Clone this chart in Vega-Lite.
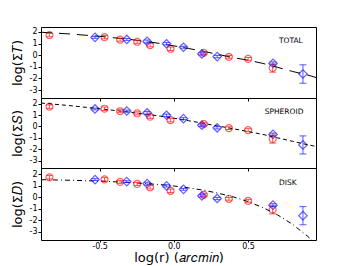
{
  "$schema": "https://vega.github.io/schema/vega-lite/v6.json",
  "padding": {"left": 10, "top": 26, "right": 35, "bottom": 0},
  "spacing": 0,
  "bounds": "flush",
  "config": {
    "font": "DejaVu Sans",
    "view": {"stroke": "black", "strokeWidth": 1}
  },
  "datasets": {
    "obs": [
      {"set": "A", "x": -0.838, "y": 1.73, "lo": 1.58, "hi": 1.88},
      {"set": "A", "x": -0.467, "y": 1.55, "lo": 1.40, "hi": 1.70},
      {"set": "A", "x": -0.362, "y": 1.33, "lo": 1.20, "hi": 1.46},
      {"set": "A", "x": -0.247, "y": 1.15, "lo": 1.02, "hi": 1.28},
      {"set": "A", "x": -0.160, "y": 0.86, "lo": 0.71, "hi": 1.01},
      {"set": "A", "x": -0.022, "y": 0.55, "lo": 0.40, "hi": 0.70},
      {"set": "A", "x": 0.202, "y": 0.20, "lo": 0.08, "hi": 0.32},
      {"set": "A", "x": 0.371, "y": -0.15, "lo": -0.27, "hi": -0.03},
      {"set": "A", "x": 0.501, "y": -0.32, "lo": -0.44, "hi": -0.20},
      {"set": "A", "x": 0.666, "y": -1.10, "lo": -1.46, "hi": -0.74},
      {"set": "B", "x": -0.531, "y": 1.53, "lo": 1.45, "hi": 1.61},
      {"set": "B", "x": -0.317, "y": 1.35, "lo": 1.27, "hi": 1.43},
      {"set": "B", "x": -0.180, "y": 1.18, "lo": 1.06, "hi": 1.30},
      {"set": "B", "x": -0.049, "y": 0.98, "lo": 0.88, "hi": 1.08},
      {"set": "B", "x": 0.065, "y": 0.68, "lo": 0.60, "hi": 0.76},
      {"set": "B", "x": 0.189, "y": 0.11, "lo": 0.01, "hi": 0.21},
      {"set": "B", "x": 0.292, "y": -0.12, "lo": -0.22, "hi": -0.02},
      {"set": "B", "x": 0.668, "y": -0.70, "lo": -0.82, "hi": -0.58},
      {"set": "B", "x": 0.870, "y": -1.62, "lo": -2.41, "hi": -0.83}
    ],
    "model": [
      {"x": -0.895, "total": 1.97, "spheroid": 2.05, "disk": 1.52},
      {"x": -0.7, "total": 1.82, "spheroid": 1.82, "disk": 1.47},
      {"x": -0.5, "total": 1.62, "spheroid": 1.55, "disk": 1.40},
      {"x": -0.3, "total": 1.36, "spheroid": 1.25, "disk": 1.28},
      {"x": -0.1, "total": 1.02, "spheroid": 0.92, "disk": 1.10},
      {"x": 0.0, "total": 0.80, "spheroid": 0.72, "disk": 0.97},
      {"x": 0.1, "total": 0.57, "spheroid": 0.50, "disk": 0.81},
      {"x": 0.2, "total": 0.33, "spheroid": 0.27, "disk": 0.60},
      {"x": 0.3, "total": 0.06, "spheroid": 0.03, "disk": 0.34},
      {"x": 0.4, "total": -0.21, "spheroid": -0.20, "disk": 0.02},
      {"x": 0.5, "total": -0.43, "spheroid": -0.45, "disk": -0.39},
      {"x": 0.6, "total": -0.71, "spheroid": -0.70, "disk": -0.91},
      {"x": 0.7, "total": -1.05, "spheroid": -1.00, "disk": -1.56},
      {"x": 0.8, "total": -1.40, "spheroid": -1.30, "disk": -2.37},
      {"x": 0.9, "total": -1.70, "spheroid": -1.60, "disk": -3.40},
      {"x": 0.958, "total": -1.92, "spheroid": -1.75, "disk": -4.10}
    ],
    "labels": [
      {"panel": "T", "label": "TOTAL"},
      {"panel": "S", "label": "SPHEROID"},
      {"panel": "D", "label": "DISK"}
    ]
  },
  "vconcat": [
    {
      "width": 275, "height": 71,
      "layer": [
        {"data": {"name": "obs"}, "mark": {"type": "point", "filled": false, "strokeWidth": 1.2, "opacity": 0.7},
         "encoding": {"x": {"field": "x", "type": "quantitative", "scale": {"domain": [-0.895, 0.958], "nice": false, "zero": false}, "axis": {"values": [-0.5, 0, 0.5], "tickCount": 3, "labels": false, "title": null, "grid": false, "domain": false, "tickSize": 3, "tickColor": "black"}}, "y": {"field": "y", "type": "quantitative", "scale": {"domain": [-3.68, 2.42], "nice": false, "zero": false}, "axis": {"values": [-3, -2, -1, 0, 1, 2], "tickCount": 6, "labelExpr": "datum.value < 0 ? '-' + format(-datum.value, 'd') : format(datum.value, 'd')", "title": "log(Σ𝑇)", "grid": false, "domain": false, "tickSize": 3, "tickColor": "black", "labelFontSize": 8, "labelColor": "black", "labelPadding": 1, "labelOverlap": false, "titleFontSize": 13, "titleFontWeight": "normal", "titleColor": "black", "titlePadding": 5}}, "color": {"field": "set", "type": "nominal", "scale": {"domain": ["A", "B"], "range": ["#ff2020", "#2020ff"]}, "legend": null}, "shape": {"field": "set", "type": "nominal", "scale": {"domain": ["A", "B"], "range": ["circle", "diamond"]}, "legend": null}, "size": {"field": "set", "type": "nominal", "scale": {"domain": ["A", "B"], "range": [48, 72]}, "legend": null}}},
        {"data": {"name": "model"}, "mark": {"type": "line", "color": "black", "strokeWidth": 1, "strokeDash": [11, 7], "clip": true},
         "encoding": {"x": {"field": "x", "type": "quantitative"}, "y": {"field": "total", "type": "quantitative"}}},
        {"data": {"name": "obs"}, "mark": {"type": "rule", "strokeWidth": 1, "opacity": 0.75},
         "encoding": {"x": {"field": "x", "type": "quantitative"}, "y": {"field": "lo", "type": "quantitative"}, "y2": {"field": "hi"}, "color": {"field": "set", "type": "nominal", "legend": null}}},
        {"data": {"name": "obs"}, "mark": {"type": "point", "shape": "stroke", "size": 49, "strokeWidth": 1, "opacity": 0.75},
         "encoding": {"x": {"field": "x", "type": "quantitative"}, "y": {"field": "lo", "type": "quantitative"}, "color": {"field": "set", "type": "nominal", "legend": null}}},
        {"data": {"name": "obs"}, "mark": {"type": "point", "shape": "stroke", "size": 49, "strokeWidth": 1, "opacity": 0.75},
         "encoding": {"x": {"field": "x", "type": "quantitative"}, "y": {"field": "hi", "type": "quantitative"}, "color": {"field": "set", "type": "nominal", "legend": null}}},
        {"data": {"name": "labels"}, "transform": [{"filter": "datum.panel === 'T'"}], "mark": {"type": "text", "fontSize": 7.5, "align": "left", "baseline": "middle", "color": "black"},
         "encoding": {"x": {"datum": 0.708}, "y": {"datum": 1.18}, "text": {"field": "label"}}}
      ]
    },
    {
      "width": 275, "height": 70,
      "layer": [
        {"data": {"name": "obs"}, "mark": {"type": "point", "filled": false, "strokeWidth": 1.2, "opacity": 0.7},
         "encoding": {"x": {"field": "x", "type": "quantitative", "scale": {"domain": [-0.895, 0.958], "nice": false, "zero": false}, "axis": {"values": [-0.5, 0, 0.5], "tickCount": 3, "labels": false, "title": null, "grid": false, "domain": false, "tickSize": 3, "tickColor": "black"}}, "y": {"field": "y", "type": "quantitative", "scale": {"domain": [-3.64, 2.49], "nice": false, "zero": false}, "axis": {"values": [-3, -2, -1, 0, 1, 2], "tickCount": 6, "labelExpr": "datum.value < 0 ? '-' + format(-datum.value, 'd') : format(datum.value, 'd')", "title": "log(Σ𝑆)", "grid": false, "domain": false, "tickSize": 3, "tickColor": "black", "labelFontSize": 8, "labelColor": "black", "labelPadding": 1, "labelOverlap": false, "titleFontSize": 13, "titleFontWeight": "normal", "titleColor": "black", "titlePadding": 5}}, "color": {"field": "set", "type": "nominal", "scale": {"domain": ["A", "B"], "range": ["#ff2020", "#2020ff"]}, "legend": null}, "shape": {"field": "set", "type": "nominal", "scale": {"domain": ["A", "B"], "range": ["circle", "diamond"]}, "legend": null}, "size": {"field": "set", "type": "nominal", "scale": {"domain": ["A", "B"], "range": [48, 72]}, "legend": null}}},
        {"data": {"name": "model"}, "mark": {"type": "line", "color": "black", "strokeWidth": 1, "strokeDash": [4, 3], "clip": true},
         "encoding": {"x": {"field": "x", "type": "quantitative"}, "y": {"field": "spheroid", "type": "quantitative"}}},
        {"data": {"name": "obs"}, "mark": {"type": "rule", "strokeWidth": 1, "opacity": 0.75},
         "encoding": {"x": {"field": "x", "type": "quantitative"}, "y": {"field": "lo", "type": "quantitative"}, "y2": {"field": "hi"}, "color": {"field": "set", "type": "nominal", "legend": null}}},
        {"data": {"name": "obs"}, "mark": {"type": "point", "shape": "stroke", "size": 49, "strokeWidth": 1, "opacity": 0.75},
         "encoding": {"x": {"field": "x", "type": "quantitative"}, "y": {"field": "lo", "type": "quantitative"}, "color": {"field": "set", "type": "nominal", "legend": null}}},
        {"data": {"name": "obs"}, "mark": {"type": "point", "shape": "stroke", "size": 49, "strokeWidth": 1, "opacity": 0.75},
         "encoding": {"x": {"field": "x", "type": "quantitative"}, "y": {"field": "hi", "type": "quantitative"}, "color": {"field": "set", "type": "nominal", "legend": null}}},
        {"data": {"name": "labels"}, "transform": [{"filter": "datum.panel === 'S'"}], "mark": {"type": "text", "fontSize": 7.5, "align": "left", "baseline": "middle", "color": "black"},
         "encoding": {"x": {"datum": 0.612}, "y": {"datum": 1.25}, "text": {"field": "label"}}}
      ]
    },
    {
      "width": 275, "height": 72,
      "layer": [
        {"data": {"name": "obs"}, "mark": {"type": "point", "filled": false, "strokeWidth": 1.2, "opacity": 0.7},
         "encoding": {"x": {"field": "x", "type": "quantitative", "scale": {"domain": [-0.895, 0.958], "nice": false, "zero": false}, "axis": {"values": [-0.5, 0, 0.5], "tickCount": 3, "labelExpr": "datum.value < 0 ? '-' + format(-datum.value, '.1f') : format(datum.value, '.1f')", "title": "log(r) (𝑎𝑟𝑐𝑚𝑖𝑛)", "grid": false, "domain": false, "tickSize": 2, "tickColor": "black", "labelFontSize": 8, "labelColor": "black", "labelPadding": 0, "titleFontSize": 13, "titleFontWeight": "normal", "titleColor": "black", "titlePadding": 1}}, "y": {"field": "y", "type": "quantitative", "scale": {"domain": [-3.74, 2.54], "nice": false, "zero": false}, "axis": {"values": [-3, -2, -1, 0, 1, 2], "tickCount": 6, "labelExpr": "datum.value < 0 ? '-' + format(-datum.value, 'd') : format(datum.value, 'd')", "title": "log(Σ𝐷)", "grid": false, "domain": false, "tickSize": 3, "tickColor": "black", "labelFontSize": 8, "labelColor": "black", "labelPadding": 1, "labelOverlap": false, "titleFontSize": 13, "titleFontWeight": "normal", "titleColor": "black", "titlePadding": 5}}, "color": {"field": "set", "type": "nominal", "scale": {"domain": ["A", "B"], "range": ["#ff2020", "#2020ff"]}, "legend": null}, "shape": {"field": "set", "type": "nominal", "scale": {"domain": ["A", "B"], "range": ["circle", "diamond"]}, "legend": null}, "size": {"field": "set", "type": "nominal", "scale": {"domain": ["A", "B"], "range": [48, 72]}, "legend": null}}},
        {"data": {"name": "model"}, "mark": {"type": "line", "color": "black", "strokeWidth": 1, "strokeDash": [5, 3, 1, 3], "clip": true},
         "encoding": {"x": {"field": "x", "type": "quantitative"}, "y": {"field": "disk", "type": "quantitative"}}},
        {"data": {"name": "obs"}, "mark": {"type": "rule", "strokeWidth": 1, "opacity": 0.75},
         "encoding": {"x": {"field": "x", "type": "quantitative"}, "y": {"field": "lo", "type": "quantitative"}, "y2": {"field": "hi"}, "color": {"field": "set", "type": "nominal", "legend": null}}},
        {"data": {"name": "obs"}, "mark": {"type": "point", "shape": "stroke", "size": 49, "strokeWidth": 1, "opacity": 0.75},
         "encoding": {"x": {"field": "x", "type": "quantitative"}, "y": {"field": "lo", "type": "quantitative"}, "color": {"field": "set", "type": "nominal", "legend": null}}},
        {"data": {"name": "obs"}, "mark": {"type": "point", "shape": "stroke", "size": 49, "strokeWidth": 1, "opacity": 0.75},
         "encoding": {"x": {"field": "x", "type": "quantitative"}, "y": {"field": "hi", "type": "quantitative"}, "color": {"field": "set", "type": "nominal", "legend": null}}},
        {"data": {"name": "labels"}, "transform": [{"filter": "datum.panel === 'D'"}], "mark": {"type": "text", "fontSize": 7.5, "align": "left", "baseline": "middle", "color": "black"},
         "encoding": {"x": {"datum": 0.708}, "y": {"datum": 1.26}, "text": {"field": "label"}}}
      ]
    }
  ]
}
